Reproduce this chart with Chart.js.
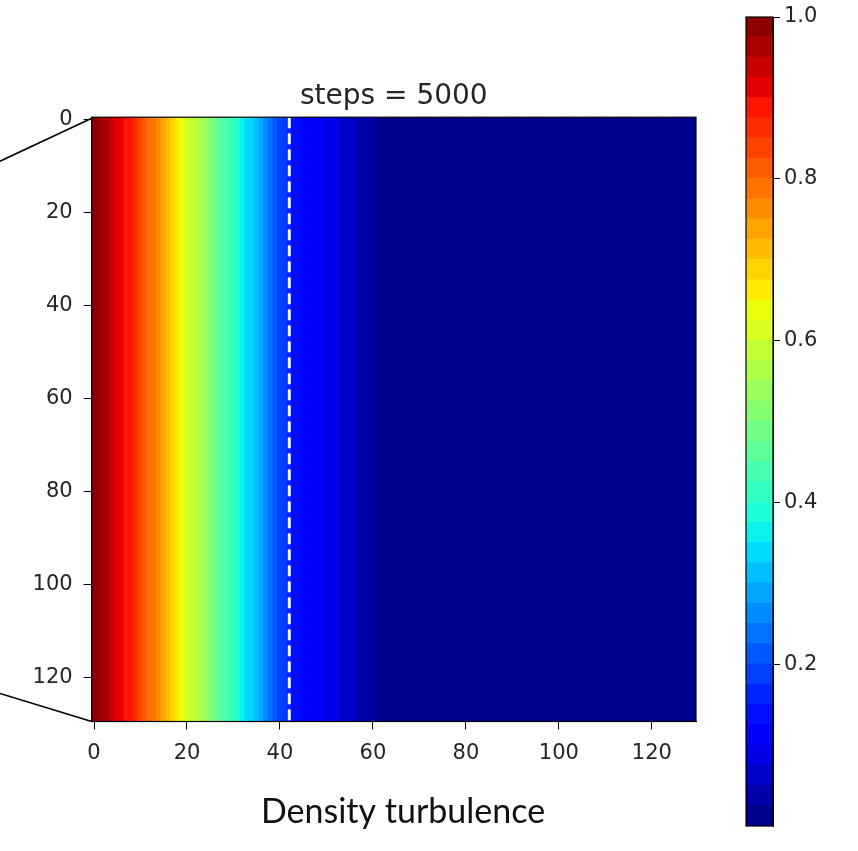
<!DOCTYPE html>
<html>
<head>
<meta charset="utf-8">
<script src="https://cdn.jsdelivr.net/npm/chart.js@4.4.1/dist/chart.umd.min.js"></script>
<style>
  html, body { margin: 0; padding: 0; background: #fff; }
  #wrap { position: relative; width: 858px; height: 851px; }
  canvas { position: absolute; top: 0; }
  #heat { left: 0; }
  #cbar { left: 700px; }
</style>
</head>
<body>
<div id="wrap">
  <canvas id="heat" width="858" height="851"></canvas>
  <canvas id="cbar" width="158" height="851"></canvas>
</div>
<script>
// density along x (each column is the same from top to bottom)
const columnDensity = [
  0.99, 0.98, 0.97, 0.96, 0.94, 0.92, 0.91, 0.90, 0.88, 0.86,
  0.84, 0.82, 0.80, 0.78, 0.76, 0.74, 0.72, 0.69, 0.67, 0.64,
  0.62, 0.60, 0.58, 0.56, 0.53, 0.51, 0.49, 0.47, 0.45, 0.43,
  0.41, 0.39, 0.37, 0.35, 0.33, 0.31, 0.29, 0.27, 0.25, 0.22,
  0.20, 0.18, 0.16, 0.14, 0.13, 0.12, 0.12, 0.11, 0.11, 0.11,
  0.10, 0.09, 0.08, 0.08, 0.07, 0.06, 0.06, 0.05, 0.05, 0.04,
  0.03, 0.02, 0.01, 0.005, 0.005, 0.005, 0.005, 0.005, 0.005, 0.005,
  0.005, 0.005, 0.005, 0.005, 0.005, 0.005, 0.005, 0.005, 0.005, 0.005,
  0.005, 0.005, 0.005, 0.005, 0.005, 0.005, 0.005, 0.005, 0.005, 0.005,
  0.005, 0.005, 0.005, 0.005, 0.005, 0.005, 0.005, 0.005, 0.005, 0.005,
  0.005, 0.005, 0.005, 0.005, 0.005, 0.005, 0.005, 0.005, 0.005, 0.005,
  0.005, 0.005, 0.005, 0.005, 0.005, 0.005, 0.005, 0.005, 0.005, 0.005,
  0.005, 0.005, 0.005, 0.005, 0.005, 0.005, 0.005, 0.005, 0.005, 0.005
];
const frontX = 42;           // dashed white marker
const gridRows = 130;

const xTicks = [0, 20, 40, 60, 80, 100, 120];
const yTicks = [0, 20, 40, 60, 80, 100, 120];
const cbTicks = [0.2, 0.4, 0.6, 0.8, 1.0];

// contour levels of the colour bar
const cbLevels = [
  0.000, 0.025, 0.050, 0.075, 0.100, 0.125, 0.150, 0.175, 0.200, 0.225,
  0.250, 0.275, 0.300, 0.325, 0.350, 0.375, 0.400, 0.425, 0.450, 0.475,
  0.500, 0.525, 0.550, 0.575, 0.600, 0.625, 0.650, 0.675, 0.700, 0.725,
  0.750, 0.775, 0.800, 0.825, 0.850, 0.875, 0.900, 0.925, 0.950, 0.975, 1.000
];

const TEXT = '#262626';
const FONT = 'DejaVu Sans';

// matplotlib "jet"
function channel(v, pts) {
  for (let i = 1; i < pts.length; i++) {
    if (v <= pts[i][0]) {
      const [x0, y0] = pts[i - 1];
      const [x1, y1] = pts[i];
      return y0 + (y1 - y0) * (v - x0) / (x1 - x0);
    }
  }
  return pts[pts.length - 1][1];
}

function jet(v) {
  const r = channel(v, [[0, 0], [0.35, 0], [0.66, 1], [0.89, 1], [1, 0.5]]);
  const g = channel(v, [[0, 0], [0.125, 0], [0.375, 1], [0.64, 1], [0.91, 0], [1, 0]]);
  const b = channel(v, [[0, 0.5], [0.11, 1], [0.34, 1], [0.65, 0], [1, 0]]);
  return `rgb(${Math.round(r * 255)},${Math.round(g * 255)},${Math.round(b * 255)})`;
}

// contourf-like colour: middle of the level band the value falls in
function levelColor(v) {
  for (let i = 1; i < cbLevels.length; i++) {
    if (v <= cbLevels[i]) {
      return jet((cbLevels[i - 1] + cbLevels[i]) / 2);
    }
  }
  return jet(1);
}

const framePlugin = {
  id: 'frame',
  afterDatasetsDraw(chart) {
    const {ctx, chartArea: a} = chart;
    ctx.save();
    ctx.strokeStyle = '#000';
    ctx.lineWidth = 1.2;
    ctx.strokeRect(a.left, a.top, a.right - a.left, a.bottom - a.top);
    ctx.restore();
  }
};

const decorPlugin = {
  id: 'decor',
  afterDraw(chart) {
    const {ctx, chartArea: a} = chart;
    ctx.save();
    // zoom connector lines
    ctx.strokeStyle = '#000';
    ctx.lineWidth = 1.6;
    ctx.beginPath();
    ctx.moveTo(0, a.top + 44);
    ctx.lineTo(a.left, a.top + 1);
    ctx.moveTo(0, a.bottom - 28);
    ctx.lineTo(a.left, a.bottom);
    ctx.stroke();
    // title
    ctx.fillStyle = TEXT;
    ctx.textAlign = 'center';
    ctx.textBaseline = 'alphabetic';
    ctx.font = `28px "${FONT}"`;
    ctx.fillText('steps = 5000', (a.left + a.right) / 2, 104);
    // caption
    ctx.fillStyle = '#111';
    ctx.font = '34px Lato';
    ctx.textBaseline = 'middle';
    ctx.fillText('Density turbulence', 403, 812);
    ctx.restore();
  }
};

new Chart(document.getElementById('heat'), {
  type: 'bar',
  data: {
    datasets: [
      {
        type: 'line',
        data: [{x: frontX, y: -0.5}, {x: frontX, y: gridRows - 0.5}],
        borderColor: '#f2f2ff',
        borderWidth: 3,
        borderDash: [11, 5],
        pointRadius: 0,
        order: 0
      },
      {
        data: columnDensity.map((v, i) => ({x: i, y: [-0.5, gridRows - 0.5]})),
        backgroundColor: columnDensity.map(levelColor),
        borderWidth: 0,
        inflateAmount: 0.7,
        barPercentage: 1,
        categoryPercentage: 1,
        order: 1
      }
    ]
  },
  options: {
    responsive: false,
    animation: false,
    layout: {padding: {left: 0, right: 162, top: 117.2, bottom: 79.5}},
    scales: {
      x: {
        type: 'linear',
        min: -0.5,
        max: columnDensity.length - 0.5,
        offset: false,
        afterBuildTicks: scale => { scale.ticks = xTicks.map(v => ({value: v})); },
        afterFit: scale => { scale.height = 50; },
        grid: {offset: false, drawOnChartArea: false, tickLength: 8, color: '#000'},
        border: {color: '#000'},
        ticks: {font: {family: FONT, size: 21}, color: TEXT, padding: 11, maxRotation: 0}
      },
      y: {
        type: 'linear',
        reverse: true,
        min: -0.5,
        max: gridRows - 0.5,
        afterBuildTicks: scale => { scale.ticks = yTicks.map(v => ({value: v})); },
        afterFit: scale => { scale.width = 91.7; },
        grid: {drawOnChartArea: false, tickLength: 8, color: '#000'},
        border: {color: '#000'},
        ticks: {font: {family: FONT, size: 21}, color: TEXT, padding: 11}
      }
    },
    plugins: {
      legend: {display: false},
      tooltip: {enabled: false},
      title: {display: false}
    }
  },
  plugins: [framePlugin, decorPlugin]
});

new Chart(document.getElementById('cbar'), {
  type: 'bar',
  data: {
    labels: ['cb'],
    datasets: cbLevels.slice(1).map((hi, i) => ({
      data: [[cbLevels[i], hi]],
      backgroundColor: jet((cbLevels[i] + hi) / 2),
      borderWidth: 0,
      inflateAmount: 0.7,
      grouped: false,
      barPercentage: 1,
      categoryPercentage: 1
    }))
  },
  options: {
    responsive: false,
    animation: false,
    layout: {padding: {left: 46, right: 0, top: 17, bottom: 25}},
    scales: {
      x: {display: false, offset: true},
      y: {
        type: 'linear',
        position: 'right',
        min: 0,
        max: 1,
        afterBuildTicks: scale => { scale.ticks = cbTicks.map(v => ({value: v})); },
        afterFit: scale => { scale.width = 85; },
        grid: {drawOnChartArea: false, tickLength: 7, color: '#000'},
        border: {color: '#000'},
        ticks: {
          font: {family: FONT, size: 21},
          color: TEXT,
          padding: 4,
          callback: v => v.toFixed(1)
        }
      }
    },
    plugins: {legend: {display: false}, tooltip: {enabled: false}}
  },
  plugins: [framePlugin]
});
</script>
</body>
</html>
